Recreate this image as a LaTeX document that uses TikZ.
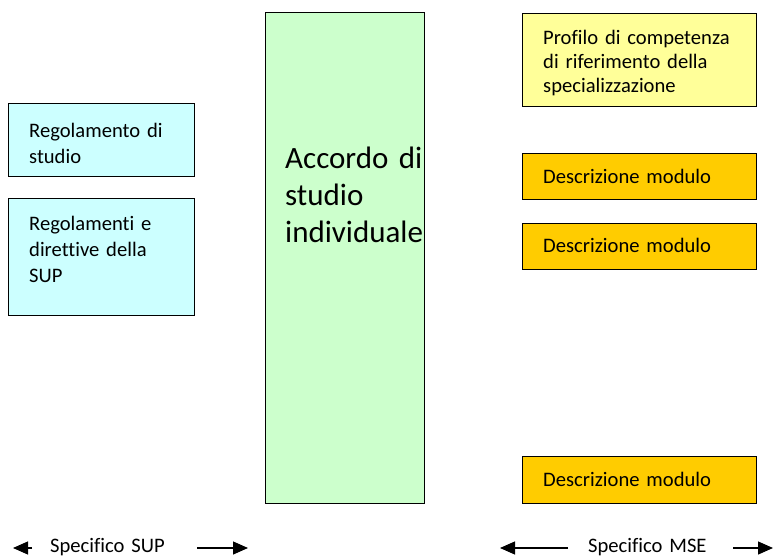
\documentclass[tikz,border=0pt]{standalone}
\usepackage{fontspec}
\setmainfont{Carlito}[Ligatures={NoCommon,NoRequired,NoContextual}]
\usetikzlibrary{arrows.meta,positioning}

% box colours
\definecolor{supcyan}{HTML}{CCFFFF}
\definecolor{accgreen}{HTML}{CCFFCC}
\definecolor{profyellow}{HTML}{FFFF99}
\definecolor{modorange}{HTML}{FFCC00}

\tikzset{
  box/.style={draw=black, line width=1.3pt, rectangle, inner sep=0pt, anchor=north west},
  boxtext/.style={anchor=base west, inner sep=0pt, align=left, text width=230pt,
    font={\fontsize{20.6}{26}\selectfont}},
  spanarrow/.style={line width=1.2pt, -{Triangle[length=15pt,width=13pt]}}
}

\begin{document}
\begin{tikzpicture}[x=1pt, y=-1pt]

    % Fix the page to the size of the reference
    \useasboundingbox (0,0) rectangle (774,557);

    % Left column: SUP documents
    \node[box, fill=supcyan, minimum width=186pt, minimum height=73pt] (regA) at (8,103) {};
    \node[box, fill=supcyan, minimum width=186pt, minimum height=117pt] (regB) at (8,198) {};
    \node[boxtext] (regAtext) at (29,137) {Regolamento di\\studio};
    \node[boxtext] (regBtext) at (29,230) {Regolamenti e\\direttive della\\SUP};

    % Middle column: the individual agreement
    \node[box, fill=accgreen, minimum width=159pt, minimum height=491pt] (accordo) at (265,12) {};
    \node[boxtext, font={\fontsize{31}{37}\selectfont}] (accordotext) at (285,168)
        {Accordo di\\studio\\individuale};

    % Right column: MSE documents
    \node[box, fill=profyellow, minimum width=234pt, minimum height=93pt] (profilo) at (522,13) {};
    \node[boxtext, font={\fontsize{20.6}{24}\selectfont}] (profilotext) at (543,44)
        {Profilo di competenza\\di riferimento della\\specializzazione};

    \node[box, fill=modorange, minimum width=234pt, minimum height=46pt] (modA) at (522,153) {};
    \node[box, fill=modorange, minimum width=234pt, minimum height=46pt] (modB) at (522,223) {};
    \node[box, fill=modorange, minimum width=234pt, minimum height=47pt] (modC) at (522,456) {};
    \node[boxtext] (modAtext) at (543,183) {Descrizione modulo};
    \node[boxtext] (modBtext) at (543,252) {Descrizione modulo};
    \node[boxtext] (modCtext) at (543,486) {Descrizione modulo};

    % Bottom labels with their span arrows
    \node[boxtext] (sup) at (50,552) {Specifico SUP};
    \node[boxtext] (mse) at (588,552) {Specifico MSE};

    \coordinate (supL0) at (32,548);
    \coordinate (supL1) at (13,548);
    \coordinate (supR0) at (197,548);
    \coordinate (supR1) at (248,548);
    \coordinate (mseL0) at (568,548);
    \coordinate (mseL1) at (500,548);
    \coordinate (mseR0) at (733,548);
    \coordinate (mseR1) at (773,548);

    \draw[spanarrow] (supL0) -- (supL1);
    \draw[spanarrow] (supR0) -- (supR1);
    \draw[spanarrow] (mseL0) -- (mseL1);
    \draw[spanarrow] (mseR0) -- (mseR1);

\end{tikzpicture}
\end{document}
